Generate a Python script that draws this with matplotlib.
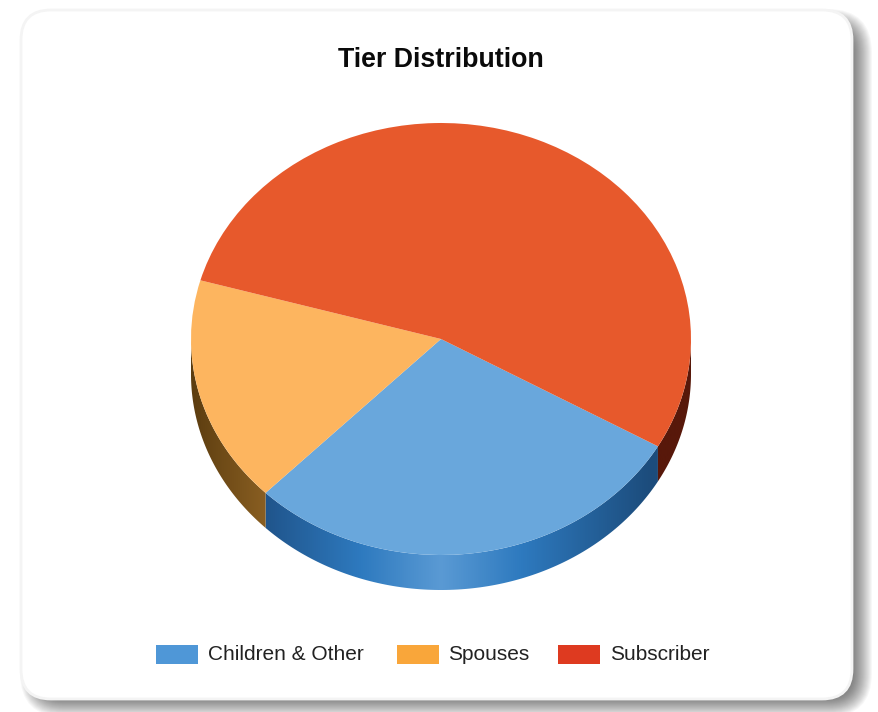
import numpy as np
import matplotlib
matplotlib.use('Agg')
import matplotlib.pyplot as plt
from matplotlib.colors import LinearSegmentedColormap
from matplotlib.patches import FancyBboxPatch, Polygon, Rectangle

plt.rcParams['font.family'] = ['Liberation Sans', 'DejaVu Sans']

labels = ['Children & Other', 'Spouses', 'Subscriber']
shares = [29.1, 17.0, 53.9]
top_colors = ['#69a7dc', '#fdb55f', '#e7592c']
key_colors = ['#4f97d7', '#f9a63a', '#de3a20']
# wall shades: edge of the disc -> shoulder -> middle -> centre
wall_colors = [['#1c4c7c', '#20558c', '#2e7abf', '#5a9ad4'],
               ['#5c3d10', '#8a5f22', '#a87a30', '#b88a40'],
               ['#58180a', '#5e1c0a', '#6e2110', '#8a2a14']]

W, H = 879, 712
start_angle = -29.8
cx, cy, rx, ry = 441, 339, 250, 216
depth_px = 35
depth = depth_px / ry

fig = plt.figure(figsize=(W / 100, H / 100), dpi=100)

# page axes in pixel coordinates
page = fig.add_axes([0, 0, 1, 1])
page.set_xlim(0, W)
page.set_ylim(H, 0)
page.axis('off')


def card(x0, y0, x1, y1, rad, **kw):
    p = FancyBboxPatch((x0 + rad, y0 + rad), x1 - x0 - 2 * rad, y1 - y0 - 2 * rad,
                       boxstyle=f'round,pad={rad},rounding_size={rad}', **kw)
    page.add_patch(p)


# soft shadow, stacked from wide and faint to narrow
for g in np.arange(16, -4, -1):
    card(36 - g, 25 - g, 856 + g, 701 + g, 28 + max(g, 0), fc='#000000', ec='none', alpha=0.03)
card(21, 10, 852, 699, 30, fc='white', ec='#f4f4f4', lw=2)

# pie axes, unit circle stretched to an ellipse, with room below for the wall
pie_ax = fig.add_axes([(cx - rx) / W, 1 - (cy + ry + depth_px) / H,
                       2 * rx / W, (2 * ry + depth_px) / H])
pie_ax.axis('off')

angle = start_angle
for share, shades in zip(shares, wall_colors):
    a0 = angle
    a1 = angle - share * 3.6
    angle = a1
    # only the part below the horizontal shows a wall
    for off in (0, 360):
        lo = max(a1 + off, -180)
        hi = min(a0 + off, 0)
        if hi <= lo:
            continue
        t = np.radians(np.linspace(lo, hi, 120))
        x, y = np.cos(t), np.sin(t)
        pts = np.r_[np.c_[x, y], np.c_[x, y - depth][::-1]]
        poly = Polygon(pts, closed=True, transform=pie_ax.transData, fc='none', ec='none')
        pie_ax.add_patch(poly)
        cmap = LinearSegmentedColormap.from_list(
            'wall', [(0, shades[0]), (0.15, shades[1]), (0.34, shades[2]),
                     (0.5, shades[3]), (0.66, shades[2]),
                     (0.92, shades[0]), (1, shades[0])])
        im = pie_ax.imshow(np.linspace(0, 1, 512)[None, :], cmap=cmap, vmin=0, vmax=1,
                           extent=(-1, 1, -1 - depth, 1), aspect='auto', zorder=1)
        im.set_clip_path(poly)

wedges, _ = pie_ax.pie(shares, colors=top_colors, startangle=start_angle, counterclock=False,
                       radius=1, wedgeprops={'linewidth': 0, 'zorder': 2})
pie_ax.set_aspect('auto')
pie_ax.set_xlim(-1, 1)
pie_ax.set_ylim(-1 - depth, 1)
pie_ax.patch.set_alpha(0)

page.text(441, 60, 'Tier Distribution', ha='center', va='center',
          fontsize=19.3, fontweight='bold', color='#0a0a0a')

key_x = [156, 397, 558]
text_x = [208, 448, 610]
for kx, tx, lab, col in zip(key_x, text_x, labels, key_colors):
    page.add_patch(Rectangle((kx, 645), 42, 19, fc=col, ec='none'))
    page.text(tx, 655, lab, ha='left', va='center', fontsize=15, color='#222222')

fig.savefig('out.png', dpi=100)
